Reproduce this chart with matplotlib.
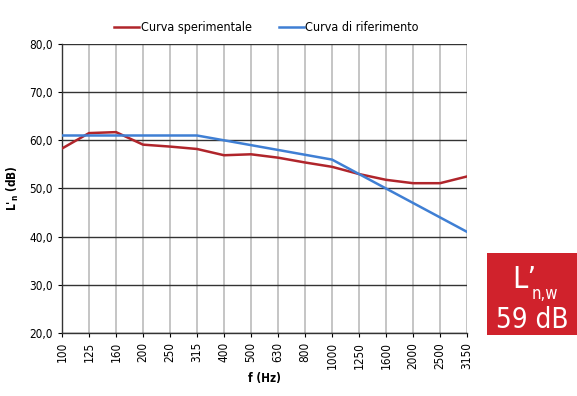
import matplotlib.pyplot as plt
from matplotlib.ticker import FuncFormatter

plt.rcParams['font.family'] = ['DejaVu Sans']
plt.rcParams['font.stretch'] = 'condensed'

freqs = ['100', '125', '160', '200', '250', '315', '400', '500', '630',
         '800', '1000', '1250', '1600', '2000', '2500', '3150']
measured = [58.3, 61.5, 61.7, 59.1, 58.7, 58.2, 56.9, 57.1, 56.4,
            55.4, 54.5, 53.0, 51.8, 51.1, 51.1, 52.5]
reference = [61, 61, 61, 61, 61, 61, 60, 59, 58, 57, 56, 53, 50, 47, 44, 41]
rating = '59 dB'

fig = plt.figure(figsize=(5.77, 3.96), dpi=100)
ax = fig.add_axes([0.1075, 0.159, 0.7019, 0.730])

x = range(len(freqs))
ax.plot(x, measured, color='#b0252b', lw=1.8, label='Curva sperimentale', zorder=3)
ax.plot(x, reference, color='#3f7fd4', lw=1.8, label='Curva di riferimento', zorder=3)

ax.set_xlim(0, len(freqs) - 1)
ax.set_ylim(20, 80)
ax.set_yticks(range(20, 81, 10))
ax.yaxis.set_major_formatter(FuncFormatter(lambda v, p: f'{v:.1f}'.replace('.', ',')))
ax.set_xticks(list(x))
ax.set_xticklabels(freqs, rotation=90, fontsize=8.5)
ax.tick_params(axis='y', labelsize=8.5, length=3, width=0.8)
ax.tick_params(axis='x', length=3, width=0.8)

ax.grid(axis='y', color='#333333', lw=1.0)
ax.grid(axis='x', color='#c0c0c0', lw=1.3)
ax.set_axisbelow(True)
for s in ['top', 'right']:
    ax.spines[s].set_visible(False)
for s in ['left', 'bottom']:
    ax.spines[s].set_color('#333333')
    ax.spines[s].set_linewidth(1.0)

ax.set_xlabel('f (Hz)', fontsize=8.5, fontweight='bold', labelpad=2)
ax.set_ylabel("L'$_{\\mathregular{n}}$ (dB)", fontsize=8.5, fontweight='bold', labelpad=6)

ax.legend(loc='lower center', bbox_to_anchor=(0.505, 0.995), ncol=2, frameon=False,
          fontsize=9, handlelength=2.0, handletextpad=0.1, columnspacing=2.2)

# rating box
box = fig.add_axes([487 / 577, 1 - 335 / 396, 90 / 577, 82 / 396])
box.set_facecolor('#d0222c')
box.set_xticks([])
box.set_yticks([])
for s in box.spines.values():
    s.set_visible(False)
box.text(0.42, 0.68, "L\u2019", color='white', fontsize=22, ha='center', va='center',
         transform=box.transAxes)
box.text(0.50, 0.50, 'n,w', color='white', fontsize=12, ha='left', va='center',
         transform=box.transAxes)
box.text(0.5, 0.18, rating, color='white', fontsize=20, ha='center', va='center',
         transform=box.transAxes)

fig.savefig('out.png', dpi=100)
